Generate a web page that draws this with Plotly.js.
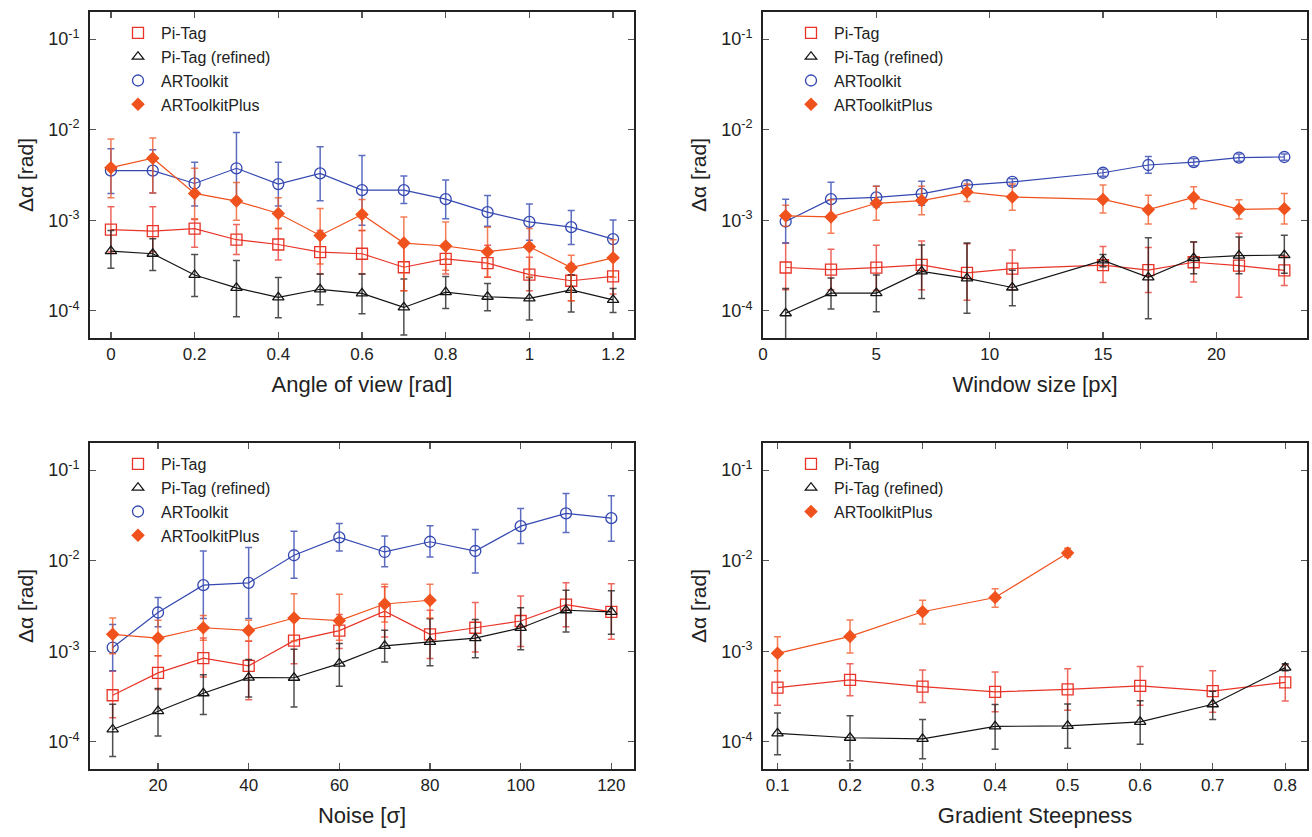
<!DOCTYPE html>
<html>
<head>
<meta charset="utf-8">
<script src="https://cdn.plot.ly/plotly-3.0.1.min.js"></script>
<style>html,body{margin:0;padding:0;background:#fff;}#chart{width:1312px;height:837px;}</style>
</head>
<body>
<div id="chart"></div>
<script>
// ---------------- Data ----------------
// Panel 1: Angle of view [rad]
const p1_x = [0, 0.1, 0.2, 0.3, 0.4, 0.5, 0.6, 0.7, 0.8, 0.9, 1.0, 1.1, 1.2];
const p1_pitag    = [7.9e-4, 7.6e-4, 8.1e-4, 6.1e-4, 5.4e-4, 4.45e-4, 4.27e-4, 3.03e-4, 3.75e-4, 3.36e-4, 2.51e-4, 2.15e-4, 2.4e-4];
const p1_pitag_hi = [1.41e-3, 1.41e-3, 1.02e-3, 9.0e-4, 8.1e-4, 7.7e-4, 7.7e-4, 5.5e-4, 5.5e-4, 5.3e-4, 3.9e-4, 3.3e-4, 3.75e-4];
const p1_pitag_lo = [4.45e-4, 4.45e-4, 5.05e-4, 4.2e-4, 3.65e-4, 2.55e-4, 2.55e-4, 1.67e-4, 2.55e-4, 2.35e-4, 1.67e-4, 1.29e-4, 1.53e-4];
const p1_ref      = [4.56e-4, 4.27e-4, 2.49e-4, 1.79e-4, 1.41e-4, 1.73e-4, 1.56e-4, 1.09e-4, 1.61e-4, 1.43e-4, 1.37e-4, 1.7e-4, 1.32e-4];
const p1_ref_hi   = [7.7e-4, 6.25e-4, 4.19e-4, 3.6e-4, 2.34e-4, 2.55e-4, 2.55e-4, 2.25e-4, 2.39e-4, 2.01e-4, 2.34e-4, 2.51e-4, 1.77e-4];
const p1_ref_lo   = [2.95e-4, 2.78e-4, 1.44e-4, 8.6e-5, 8.4e-5, 1.17e-4, 9.3e-5, 5.4e-5, 1.06e-4, 1.0e-4, 7.9e-5, 9.7e-5, 9.6e-5];
const p1_art      = [3.53e-3, 3.53e-3, 2.55e-3, 3.75e-3, 2.51e-3, 3.3e-3, 2.15e-3, 2.15e-3, 1.71e-3, 1.23e-3, 9.6e-4, 8.4e-4, 6.2e-4];
const p1_art_hi   = [6.15e-3, 6.0e-3, 4.37e-3, 9.3e-3, 4.37e-3, 6.5e-3, 5.2e-3, 3.08e-3, 2.78e-3, 1.88e-3, 1.51e-3, 1.28e-3, 1.01e-3];
const p1_art_lo   = [1.98e-3, 2.0e-3, 1.44e-3, 1.51e-3, 1.44e-3, 1.64e-3, 8.8e-4, 1.53e-3, 1.04e-3, 8.6e-4, 6.0e-4, 5.4e-4, 3.9e-4];
const p1_plus     = [3.81e-3, 4.84e-3, 1.98e-3, 1.63e-3, 1.19e-3, 6.8e-4, 1.16e-3, 5.6e-4, 5.2e-4, 4.5e-4, 5.1e-4, 3.0e-4, 3.85e-4];
const p1_plus_hi  = [7.9e-3, 8.1e-3, 3.75e-3, 2.62e-3, 1.77e-3, 1.35e-3, 1.7e-3, 1.09e-3, 9.6e-4, 8.4e-4, 8.1e-4, 4.1e-4, 6.1e-4];
const p1_plus_lo  = [1.77e-3, 2.0e-3, 1.04e-3, 1.0e-3, 8.1e-4, 3.3e-4, 7.7e-4, 1.67e-4, 2.8e-4, 2.35e-4, 2.35e-4, 1.29e-4, 2.35e-4];

// Panel 2: Window size [px]
const p2_x = [1, 3, 5, 7, 9, 11, 15, 17, 19, 21, 23];
const p2_pitag    = [3.01e-4, 2.85e-4, 3.0e-4, 3.21e-4, 2.63e-4, 2.93e-4, 3.2e-4, 2.82e-4, 3.44e-4, 3.15e-4, 2.8e-4];
const p2_pitag_hi = [5.6e-4, 4.8e-4, 5.3e-4, 5.9e-4, 5.5e-4, 4.7e-4, 5.15e-4, 5.0e-4, 5.75e-4, 7.2e-4, 4.0e-4];
const p2_pitag_lo = [1.71e-4, 1.71e-4, 1.68e-4, 1.71e-4, 1.31e-4, 1.71e-4, 2.05e-4, 1.59e-4, 2.08e-4, 1.41e-4, 1.9e-4];
const p2_ref      = [9.4e-5, 1.57e-4, 1.57e-4, 2.73e-4, 2.28e-4, 1.81e-4, 3.6e-4, 2.34e-4, 3.83e-4, 4.08e-4, 4.12e-4];
const p2_ref_hi   = [1.76e-4, 2.3e-4, 2.49e-4, 5.35e-4, 5.6e-4, 2.8e-4, 4.2e-4, 6.4e-4, 5.75e-4, 6.55e-4, 6.85e-4];
const p2_ref_lo   = [4.8e-5, 1.05e-4, 9.8e-5, 1.37e-4, 9.4e-5, 1.14e-4, 3.06e-4, 8.2e-5, 2.56e-4, 2.56e-4, 2.6e-4];
const p2_art      = [9.7e-4, 1.71e-3, 1.79e-3, 1.96e-3, 2.45e-3, 2.65e-3, 3.35e-3, 4.08e-3, 4.39e-3, 4.93e-3, 5.0e-3];
const p2_art_hi   = [1.71e-3, 2.63e-3, 2.37e-3, 2.7e-3, 2.75e-3, 2.88e-3, 3.65e-3, 5.06e-3, 4.8e-3, 5.4e-3, 5.4e-3];
const p2_art_lo   = [5.6e-4, 1.12e-3, 1.41e-3, 1.47e-3, 2.19e-3, 2.4e-3, 3.07e-3, 3.3e-3, 4.0e-3, 4.5e-3, 4.6e-3];
const p2_plus     = [1.12e-3, 1.09e-3, 1.54e-3, 1.65e-3, 2.05e-3, 1.81e-3, 1.7e-3, 1.31e-3, 1.79e-3, 1.32e-3, 1.34e-3];
const p2_plus_hi  = [1.47e-3, 1.68e-3, 2.37e-3, 2.37e-3, 2.51e-3, 2.51e-3, 2.45e-3, 1.89e-3, 2.34e-3, 1.68e-3, 1.98e-3];
const p2_plus_lo  = [8.6e-4, 7.2e-4, 1.0e-3, 1.15e-3, 1.61e-3, 1.29e-3, 1.2e-3, 9.1e-4, 1.34e-3, 1.03e-3, 9.1e-4];

// Panel 3: Noise [sigma]
const p3_x = [10, 20, 30, 40, 50, 60, 70, 80, 90, 100, 110, 120];
const p3_pitag    = [3.27e-4, 5.77e-4, 8.4e-4, 6.9e-4, 1.31e-3, 1.69e-3, 2.77e-3, 1.54e-3, 1.82e-3, 2.16e-3, 3.27e-3, 2.72e-3];
const p3_pitag_hi = [6.0e-4, 8.9e-4, 1.4e-3, 1.29e-3, 2.24e-3, 2.54e-3, 5.15e-3, 2.84e-3, 3.46e-3, 4.09e-3, 5.7e-3, 5.56e-3];
const p3_pitag_lo = [1.85e-4, 3.78e-4, 5.2e-4, 2.92e-4, 7.3e-4, 1.07e-3, 1.44e-3, 8.3e-4, 9.8e-4, 1.13e-3, 1.86e-3, 1.36e-3];
const p3_ref      = [1.37e-4, 2.18e-4, 3.44e-4, 5.12e-4, 5.1e-4, 7.3e-4, 1.15e-3, 1.27e-3, 1.4e-3, 1.81e-3, 2.84e-3, 2.72e-3];
const p3_ref_hi   = [2.6e-4, 3.87e-4, 5.5e-4, 8.1e-4, 1.05e-3, 1.22e-3, 1.71e-3, 2.29e-3, 2.24e-3, 3.03e-3, 4.73e-3, 4.66e-3];
const p3_ref_lo   = [6.9e-5, 1.16e-4, 2.01e-4, 3.13e-4, 2.43e-4, 4.11e-4, 7.6e-4, 6.9e-4, 8.5e-4, 1.04e-3, 1.63e-3, 1.54e-3];
const p3_art      = [1.1e-3, 2.68e-3, 5.37e-3, 5.7e-3, 1.15e-2, 1.81e-2, 1.25e-2, 1.62e-2, 1.28e-2, 2.41e-2, 3.33e-2, 2.95e-2];
const p3_art_hi   = [1.97e-3, 3.93e-3, 1.28e-2, 1.4e-2, 2.12e-2, 2.58e-2, 1.88e-2, 2.43e-2, 2.21e-2, 3.78e-2, 5.52e-2, 5.21e-2];
const p3_art_lo   = [6.1e-4, 1.86e-3, 2.3e-3, 2.3e-3, 6.4e-3, 1.28e-2, 8.6e-3, 1.1e-2, 7.3e-3, 1.55e-2, 2.05e-2, 1.64e-2];
const p3_plus_x   = [10, 20, 30, 40, 50, 60, 70, 80];
const p3_plus     = [1.54e-3, 1.4e-3, 1.82e-3, 1.7e-3, 2.33e-3, 2.18e-3, 3.33e-3, 3.66e-3];
const p3_plus_hi  = [2.33e-3, 2.2e-3, 2.48e-3, 2.2e-3, 4.32e-3, 4.25e-3, 5.5e-3, 5.5e-3];
const p3_plus_lo  = [9.4e-4, 8.9e-4, 1.32e-3, 1.3e-3, 1.3e-3, 1.32e-3, 2.11e-3, 2.33e-3];

// Panel 4: Gradient Steepness
const p4_x = [0.1, 0.2, 0.3, 0.4, 0.5, 0.6, 0.7, 0.8];
const p4_pitag    = [3.96e-4, 4.83e-4, 4.07e-4, 3.56e-4, 3.79e-4, 4.15e-4, 3.63e-4, 4.54e-4];
const p4_pitag_hi = [6.1e-4, 7.3e-4, 6.2e-4, 5.9e-4, 6.4e-4, 6.8e-4, 6.1e-4, 7.1e-4];
const p4_pitag_lo = [2.54e-4, 3.23e-4, 2.72e-4, 2.15e-4, 2.23e-4, 2.54e-4, 2.12e-4, 2.82e-4];
const p4_ref      = [1.24e-4, 1.11e-4, 1.08e-4, 1.48e-4, 1.5e-4, 1.66e-4, 2.6e-4, 6.6e-4];
const p4_ref_hi   = [2.08e-4, 1.94e-4, 1.77e-4, 2.58e-4, 2.62e-4, 2.84e-4, 3.62e-4, 7.3e-4];
const p4_ref_lo   = [7.2e-5, 6.2e-5, 6.5e-5, 8.3e-5, 8.5e-5, 9.4e-5, 1.77e-4, 6.1e-4];
const p4_plus_x   = [0.1, 0.2, 0.3, 0.4, 0.5];
const p4_plus     = [9.5e-4, 1.46e-3, 2.73e-3, 3.92e-3, 1.22e-2];
const p4_plus_hi  = [1.45e-3, 2.22e-3, 3.67e-3, 4.9e-3, 1.37e-2];
const p4_plus_lo  = [6.1e-4, 9.6e-4, 2.0e-3, 3.07e-3, 1.1e-2];

// Tick labels
const yTickVals = [1e-4, 1e-3, 1e-2, 1e-1];
const yTickText = ['10<sup>-4</sup>', '10<sup>-3</sup>', '10<sup>-2</sup>', '10<sup>-1</sup>'];
const p1_ticks = [0, 0.2, 0.4, 0.6, 0.8, 1, 1.2];
const p2_ticks = [0, 5, 10, 15, 20];
const p3_ticks = [20, 40, 60, 80, 100, 120];
const p4_ticks = [0.1, 0.2, 0.3, 0.4, 0.5, 0.6, 0.7, 0.8];

const names = ['Pi-Tag', 'Pi-Tag (refined)', 'ARToolkit', 'ARToolkitPlus'];

// ---------------- Styles ----------------
const STY = {
  'Pi-Tag':           {color: 'rgb(232,52,40)',  err: 'rgba(232,52,40,0.75)',  symbol: 'square-open',      size: 11},
  'Pi-Tag (refined)': {color: 'rgb(20,20,20)',   err: 'rgba(20,20,20,0.75)',   symbol: 'triangle-up-open', size: 10},
  'ARToolkit':        {color: 'rgb(52,72,176)',  err: 'rgba(52,72,176,0.8)',   symbol: 'circle-open',      size: 11},
  'ARToolkitPlus':    {color: 'rgb(240,82,30)',  err: 'rgba(240,82,30,0.75)',  symbol: 'diamond',          size: 9}
};

function series(ax, leg, name, x, y, hi, lo) {
  const s = STY[name];
  const up = y.map((v, i) => hi[i] - v);
  const dn = y.map((v, i) => v - lo[i]);
  return [
    {type: 'scatter', mode: 'lines', x: x, y: y, xaxis: 'x' + ax, yaxis: 'y' + ax,
     line: {color: s.color, width: 1.2}, showlegend: false, hoverinfo: 'skip'},
    {type: 'scatter', mode: 'markers', name: name, x: x, y: y, xaxis: 'x' + ax, yaxis: 'y' + ax,
     legend: leg,
     marker: {symbol: s.symbol, size: s.size, color: s.color, line: {color: s.color, width: 1.3}},
     error_y: {type: 'data', symmetric: false, array: up, arrayminus: dn, color: s.err, thickness: 1.5, width: 3.5}}
  ];
}

let data = [];
data = data.concat(series('', 'legend', names[0], p1_x, p1_pitag, p1_pitag_hi, p1_pitag_lo));
data = data.concat(series('', 'legend', names[1], p1_x, p1_ref, p1_ref_hi, p1_ref_lo));
data = data.concat(series('', 'legend', names[2], p1_x, p1_art, p1_art_hi, p1_art_lo));
data = data.concat(series('', 'legend', names[3], p1_x, p1_plus, p1_plus_hi, p1_plus_lo));

data = data.concat(series('2', 'legend2', names[0], p2_x, p2_pitag, p2_pitag_hi, p2_pitag_lo));
data = data.concat(series('2', 'legend2', names[1], p2_x, p2_ref, p2_ref_hi, p2_ref_lo));
data = data.concat(series('2', 'legend2', names[2], p2_x, p2_art, p2_art_hi, p2_art_lo));
data = data.concat(series('2', 'legend2', names[3], p2_x, p2_plus, p2_plus_hi, p2_plus_lo));

data = data.concat(series('3', 'legend3', names[0], p3_x, p3_pitag, p3_pitag_hi, p3_pitag_lo));
data = data.concat(series('3', 'legend3', names[1], p3_x, p3_ref, p3_ref_hi, p3_ref_lo));
data = data.concat(series('3', 'legend3', names[2], p3_x, p3_art, p3_art_hi, p3_art_lo));
data = data.concat(series('3', 'legend3', names[3], p3_plus_x, p3_plus, p3_plus_hi, p3_plus_lo));

data = data.concat(series('4', 'legend4', names[0], p4_x, p4_pitag, p4_pitag_hi, p4_pitag_lo));
data = data.concat(series('4', 'legend4', names[1], p4_x, p4_ref, p4_ref_hi, p4_ref_lo));
data = data.concat(series('4', 'legend4', names[3], p4_plus_x, p4_plus, p4_plus_hi, p4_plus_lo));

// ---------------- Layout ----------------
const W = 1312, H = 837;
const FONT = 'Liberation Sans, Arial, Helvetica, sans-serif';
function xdom(l, r) { return [l / W, r / W]; }
function ydom(t, b) { return [1 - b / H, 1 - t / H]; }

function xa(dom, range, ticks, title, anchor) {
  return {domain: dom, range: range, tickvals: ticks, anchor: anchor,
    showline: true, mirror: 'ticks', linecolor: '#222', linewidth: 2,
    ticks: 'inside', ticklen: 6, tickwidth: 1.2, tickcolor: '#555',
    showgrid: false, zeroline: false, tickfont: {size: 17, color: '#222'},
    title: {text: title, font: {size: 22, color: '#222'}, standoff: 13}};
}
function ya(dom, anchor) {
  return {domain: dom, type: 'log', range: [-4.30, -0.70], anchor: anchor,
    tickvals: yTickVals, ticktext: yTickText,
    showline: true, mirror: 'ticks', linecolor: '#222', linewidth: 2,
    ticks: 'inside', ticklen: 6, tickwidth: 1.2, tickcolor: '#555',
    showgrid: false, zeroline: false, tickfont: {size: 18, color: '#222'},
    ticklabelstandoff: 5,
    title: {text: 'Δα [rad]', font: {size: 21, color: '#222'}, standoff: 9}};
}
function lg(px, py) {
  return {x: px / W, y: 1 - py / H, xanchor: 'left', yanchor: 'top',
    bgcolor: 'rgba(0,0,0,0)', font: {size: 16, color: '#222'}, itemwidth: 36, tracegroupgap: 0};
}

const L = xdom(90, 634), R = xdom(763, 1307);
const T = ydom(12, 338), B = ydom(443, 769);

const layout = {
  width: W, height: H,
  margin: {l: 0, r: 0, t: 0, b: 0},
  paper_bgcolor: '#fff', plot_bgcolor: '#fff',
  font: {family: FONT, color: '#222'},
  showlegend: true,
  xaxis:  xa(L, [-0.05, 1.25], p1_ticks, 'Angle of view [rad]', 'y'),
  yaxis:  ya(T, 'x'),
  xaxis2: xa(R, [0, 24], p2_ticks, 'Window size [px]', 'y2'),
  yaxis2: ya(T, 'x2'),
  xaxis3: xa(L, [5, 125], p3_ticks, 'Noise [σ]', 'y3'),
  yaxis3: ya(B, 'x3'),
  xaxis4: xa(R, [0.08, 0.83], p4_ticks, 'Gradient Steepness', 'y4'),
  yaxis4: ya(B, 'x4'),
  legend:  lg(115, 16),
  legend2: lg(788, 16),
  legend3: lg(115, 447),
  legend4: lg(788, 447)
};

Plotly.newPlot('chart', data, layout, {displayModeBar: false, staticPlot: true});
</script>
</body>
</html>
